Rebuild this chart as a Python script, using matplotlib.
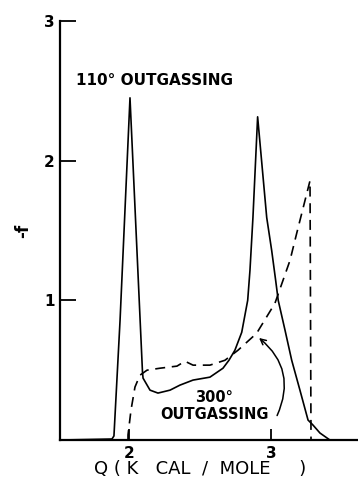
import matplotlib.pyplot as plt
from matplotlib.patches import FancyArrowPatch

# 110 deg outgassing distribution (solid)
q_110 = [1.52, 1.880, 1.894, 1.937, 2.007, 2.056, 2.095, 2.099, 2.148, 2.204,
         2.289, 2.359, 2.451, 2.570, 2.662, 2.704, 2.746, 2.794, 2.836, 2.852,
         2.873, 2.906, 2.970, 3.005, 3.033, 3.051, 3.099, 3.146, 3.204, 3.261,
         3.296, 3.345, 3.415, 3.61]
f_110 = [0.0, 0.007, 0.029, 0.857, 2.45, 1.357, 0.486, 0.443, 0.357, 0.336,
         0.357, 0.393, 0.429, 0.45, 0.514, 0.571, 0.643, 0.771, 1.0, 1.214,
         1.593, 2.314, 1.593, 1.357, 1.143, 1.0, 0.786, 0.571, 0.357, 0.143,
         0.107, 0.05, 0.0, 0.0]

# 300 deg outgassing distribution (dashed)
q_300 = [1.993, 1.993, 2.014, 2.042, 2.077, 2.127, 2.218, 2.338, 2.394, 2.451,
         2.570, 2.676, 2.768, 2.899, 3.028, 3.134, 3.181, 3.275, 3.282]
f_300 = [0.0, 0.036, 0.214, 0.379, 0.464, 0.5, 0.514, 0.529, 0.564, 0.536,
         0.536, 0.571, 0.643, 0.764, 0.979, 1.286, 1.479, 1.857, 0.0]

x_ticks = [2, 3]
y_ticks = [1, 2, 3]

fig = plt.figure(figsize=(3.58, 4.84), dpi=100)
ax = fig.add_axes([0.1676, 0.0909, 0.8324, 0.8657])

ax.plot(q_110, f_110, color="black", lw=1.2)
ax.plot(q_300, f_300, color="black", lw=1.2, dashes=(6, 4))

ax.set_xlim(1.514, 3.613)
ax.set_ylim(0, 3)

for side in ["top", "right"]:
    ax.spines[side].set_visible(False)
for side in ["left", "bottom"]:
    ax.spines[side].set_linewidth(1.6)

ax.set_xticks(x_ticks)
ax.set_yticks(y_ticks)
ax.tick_params(axis="y", direction="in", length=11.5, width=1.3, labelsize=11, pad=4)
ax.tick_params(axis="x", direction="in", length=8, width=1.3, labelsize=11, pad=4)
for lbl in ax.get_xticklabels() + ax.get_yticklabels():
    lbl.set_fontweight("bold")

ax.set_xlabel("Q ( K   CAL  /  MOLE     )", fontsize=13, va="center")
ax.xaxis.set_label_coords(0.47, -0.069)
ax.set_ylabel("-f", fontsize=12, fontweight="bold", labelpad=8)

ax.text(2.183, 2.571, "110° OUTGASSING", ha="center", va="center",
        fontsize=11, fontweight="bold")
ax.text(2.599, 0.243, "300°\nOUTGASSING", ha="center", va="center",
        fontsize=10.5, fontweight="bold", linespacing=1.1)

arrow = FancyArrowPatch((3.035, 0.157), (2.901, 0.743),
                        connectionstyle="arc3,rad=0.4",
                        arrowstyle="->,head_length=4,head_width=2",
                        color="black", lw=1.1)
ax.add_patch(arrow)

fig.savefig("out.png", dpi=100, facecolor="white")
